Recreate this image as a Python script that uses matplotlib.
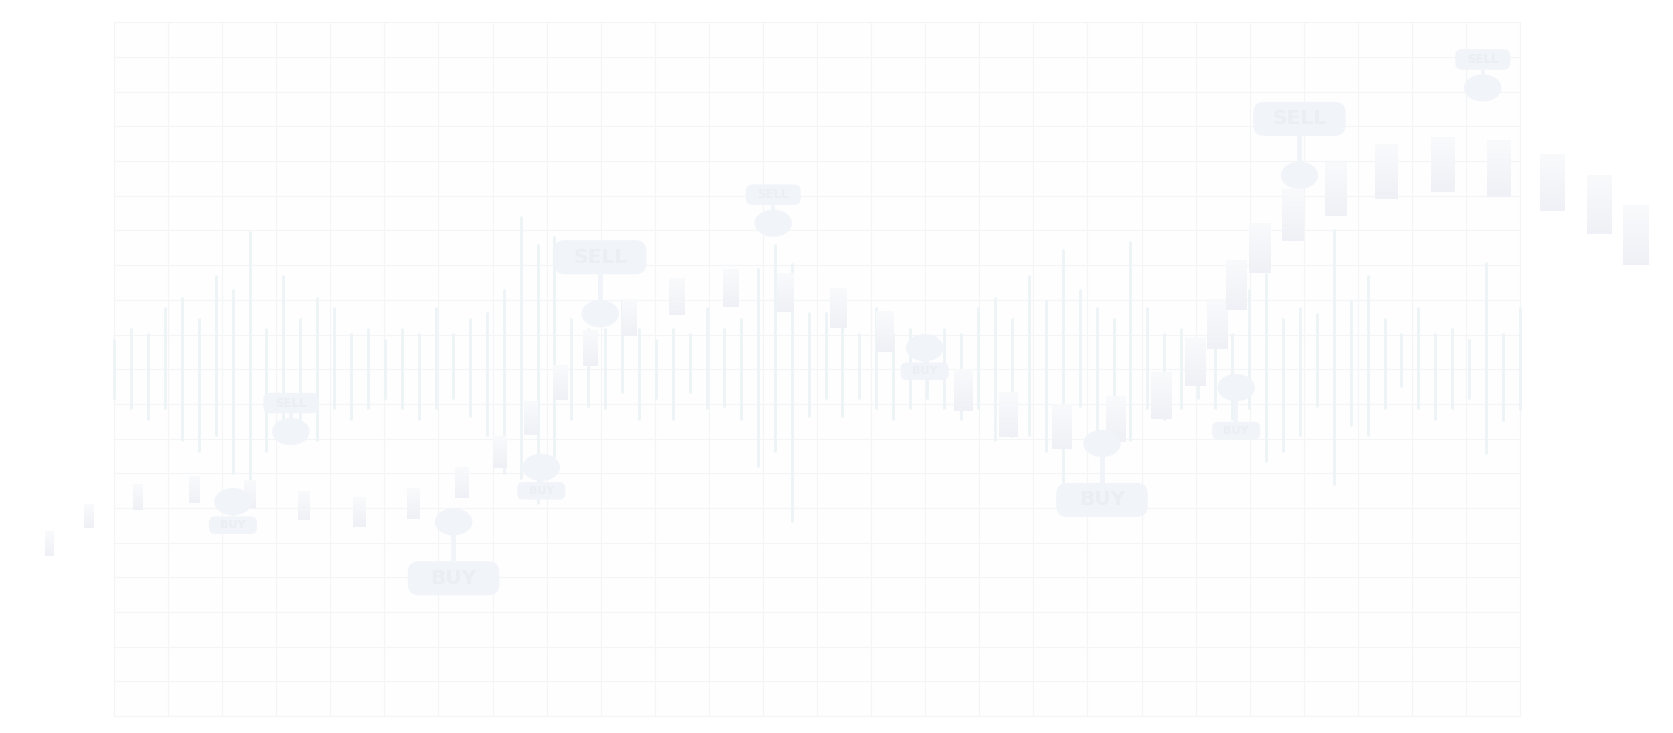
import numpy as np
import matplotlib
matplotlib.use("Agg")
import matplotlib.pyplot as plt
import matplotlib.transforms as mtransforms
from matplotlib.patches import Ellipse, FancyBboxPatch, Rectangle
from matplotlib.colors import LinearSegmentedColormap

# price scale: one grid row = 1 unit, time scale: one grid column = 1 unit
N_COLS = 26
N_ROWS = 20

# thin wick layer (84 sticks spread evenly over the grid)
wick_high = [10.86, 11.18, 11.04, 11.78, 12.09, 11.48, 12.72, 12.30, 13.99, 11.18,
             12.72, 11.48, 12.09, 11.78, 11.04, 11.18, 10.86, 11.18, 11.04, 11.78,
             11.04, 11.48, 11.66, 12.30, 14.42, 13.61, 13.84, 11.48, 11.18, 11.18,
             12.00, 11.18, 10.86, 11.18, 11.04, 11.78, 11.18, 11.48, 12.91, 13.60,
             13.05, 11.66, 11.66, 12.00, 11.04, 11.78, 11.04, 11.18, 10.86, 11.18,
             11.04, 11.78, 12.09, 11.48, 12.72, 12.00, 13.47, 12.30, 11.78, 11.48,
             13.71, 11.78, 11.04, 11.18, 10.86, 11.18, 11.04, 12.30, 12.77, 11.48,
             11.78, 11.63, 14.04, 12.00, 12.72, 11.48, 11.04, 11.78, 11.04, 11.18,
             10.86, 13.08, 11.04, 11.80]
wick_low = [9.13, 8.84, 8.54, 8.84, 7.92, 7.60, 8.08, 6.98, 6.81, 7.60,
            8.08, 8.54, 7.92, 8.84, 8.54, 8.84, 9.13, 8.84, 8.54, 8.84,
            9.15, 8.62, 8.08, 6.98, 6.83, 6.11, 7.48, 8.54, 8.90, 8.84,
            9.32, 8.54, 9.13, 8.54, 9.32, 8.84, 8.90, 8.54, 7.17, 7.60,
            5.60, 8.62, 9.15, 8.62, 9.15, 8.84, 8.54, 8.84, 9.15, 8.84,
            8.54, 8.84, 7.92, 8.05, 8.08, 7.60, 6.71, 8.90, 8.08, 7.89,
            7.92, 8.84, 8.54, 8.84, 9.15, 8.84, 8.54, 8.84, 7.32, 7.60,
            8.08, 8.90, 6.66, 8.36, 8.08, 8.84, 9.48, 8.84, 8.54, 8.84,
            9.13, 7.55, 8.52, 8.82]

# candle bodies
body_time = [-1.20, -0.47, 0.45, 1.48, 2.51, 3.51, 4.53, 5.54, 6.42, 7.13,
             7.71, 8.24, 8.81, 9.53, 10.40, 11.41, 12.42, 13.39, 14.26, 15.71,
             16.54, 17.52, 18.52, 19.36, 19.99, 20.41, 20.76, 21.19, 21.79, 22.59,
             23.53, 24.57, 25.61, 26.60, 27.46, 28.14]
body_top = [5.31, 6.11, 6.67, 6.92, 6.79, 6.46, 6.29, 6.54, 7.17, 8.05,
            9.06, 10.10, 11.13, 12.00, 12.61, 12.88, 12.78, 12.33, 11.68, 10.00,
            9.32, 8.99, 9.21, 9.90, 10.89, 12.02, 13.15, 14.22, 15.20, 15.95,
            16.46, 16.68, 16.59, 16.21, 15.58, 14.71]
body_bottom = [4.61, 5.43, 5.94, 6.15, 6.01, 5.65, 5.44, 5.67, 6.29, 7.14,
               8.10, 9.11, 10.10, 10.96, 11.56, 11.80, 11.66, 11.20, 10.50, 8.79,
               8.05, 7.70, 7.89, 8.56, 9.52, 10.58, 11.71, 12.78, 13.71, 14.42,
               14.90, 15.10, 14.97, 14.57, 13.90, 13.00]

# buy / sell signals
signal_time = [2.20, 3.27, 6.28, 7.90, 8.99, 12.19, 14.99, 18.27, 20.75, 21.92, 25.31]
signal_price = [6.18, 8.20, 5.60, 7.17, 11.60, 14.21, 10.62, 7.86, 9.47, 15.59, 18.11]
signal_label = ["BUY", "SELL", "BUY", "BUY", "SELL", "SELL", "BUY", "BUY", "BUY", "SELL", "SELL"]
signal_big = [False, False, True, False, True, False, False, True, False, True, False]

# styles (sizes in pixels)
GRID_C = "#F4F5F6"
WICK_C = "#EEF3F7"
MARK_C = "#F1F4F9"
TEXT_C = "#EBEEF2"
body_cmap = LinearSegmentedColormap.from_list("body", ["#F9FAFC", "#EFF1F6"])
box_style = {
    ("BUY", True): dict(w=91.5, h=34, gap=56.5, r=11, fs=14.5, stem=5),
    ("SELL", True): dict(w=92.5, h=34, gap=56.5, r=11, fs=14.5, stem=5),
    ("BUY", False): dict(w=48, h=17.5, gap=23.5, r=6, fs=8, stem=4),
    ("SELL", False): dict(w=55, h=20.5, gap=28.5, r=7, fs=8.5, stem=4),
}
gap_override = {8: 43}

fig = plt.figure(figsize=(16.74, 7.33), dpi=100)
ax = fig.add_axes([0, 0, 1, 1])
ax.set_axis_off()
fig.patch.set_facecolor("white")

# faint grid
ax.add_patch(Rectangle((0, 0), N_COLS, N_ROWS, fc="#FEFEFE", ec="none", zorder=0))
ax.vlines(np.arange(N_COLS + 1), 0, N_ROWS, color=GRID_C, lw=0.8, zorder=1)
ax.hlines(np.arange(N_ROWS + 1), 0, N_COLS, color=GRID_C, lw=0.8, zorder=1)

# wicks
wick_time = np.linspace(0, N_COLS, len(wick_high))
ax.vlines(wick_time, wick_low, wick_high, color=WICK_C, lw=2.0, zorder=2)

# bodies, wider toward the right
grad = np.linspace(0, 1, 64).reshape(-1, 1)
for t, top, bot in zip(body_time, body_top, body_bottom):
    w = 0.166 + 0.0101 * (t + 1.2)
    ax.imshow(grad, cmap=body_cmap, extent=(t - w / 2, t + w / 2, bot, top),
              origin="upper", aspect="auto", interpolation="bilinear", zorder=3)

# signals
for i, (t, p, lab, big) in enumerate(zip(signal_time, signal_price, signal_label, signal_big)):
    st = box_style[(lab, big)]
    gap = gap_override.get(i, st["gap"])
    off = mtransforms.ScaledTranslation(t, p, ax.transData)
    sign = 1 if lab == "SELL" else -1
    cy = sign * gap
    # stem
    y0, y1 = sorted([sign * 12, cy - sign * st["h"] / 2])
    ax.add_patch(Rectangle((-st["stem"] / 2, y0), st["stem"], y1 - y0,
                           fc=MARK_C, ec="none", transform=off, zorder=4))
    ax.add_patch(Ellipse((0, 0), 37.4, 27.2, fc=MARK_C, ec="none", transform=off, zorder=5))
    ax.add_patch(FancyBboxPatch((-st["w"] / 2 + st["r"], cy - st["h"] / 2 + st["r"]),
                                st["w"] - 2 * st["r"], st["h"] - 2 * st["r"],
                                boxstyle="round,pad=%g" % st["r"],
                                fc=MARK_C, ec="none", transform=off, zorder=5))
    ax.text(0, cy, lab, transform=off, ha="center", va="center",
            fontsize=st["fs"], fontweight="bold", color=TEXT_C, zorder=6)

ax.set_xlim(-114 / 54.08, (1674 - 114) / 54.08)
ax.set_ylim(-17 / 34.68, 716 / 34.68)

fig.savefig("out.png", dpi=100, facecolor="white")
